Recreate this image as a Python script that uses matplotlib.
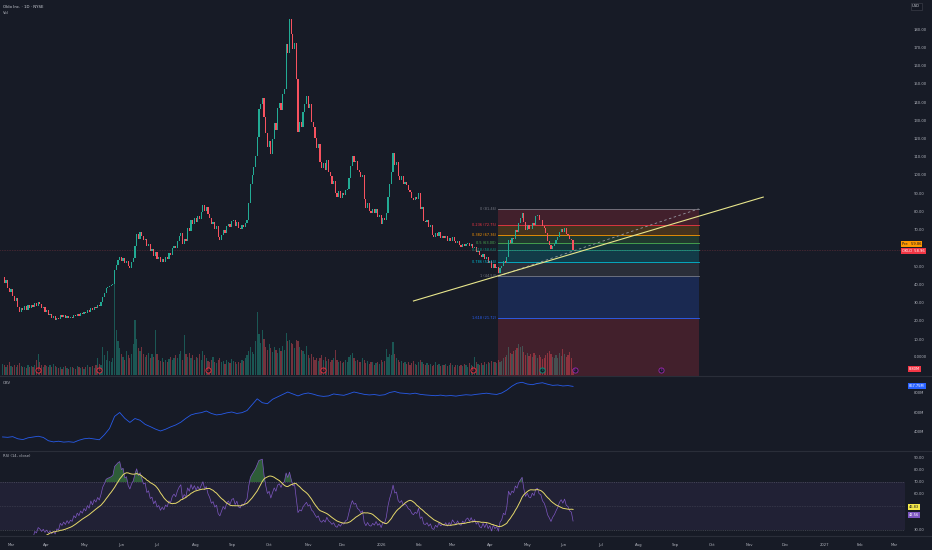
import numpy as np
import pandas as pd
import matplotlib
matplotlib.use("Agg")
import matplotlib.pyplot as plt
from matplotlib.transforms import blended_transform_factory

# Oklo daily closes, one per trading day from 2025-02-24
closes = [
    44.2, 40.9, 42.6, 38.1, 36.0, 37.8, 33.5, 31.2, 32.4, 27.9,
    25.1, 27.3, 25.9, 28.4, 26.2, 28.6, 27.1, 29.0, 27.4, 29.8,
    28.3, 30.4, 29.2, 27.0, 27.8, 25.1, 25.9, 23.4, 24.1, 21.8,
    22.6, 20.3, 21.9, 21.2, 23.3, 22.0, 23.1, 21.7, 22.9, 21.4,
    22.4, 21.8, 23.5, 22.6, 24.0, 23.0, 24.4, 23.6, 25.0, 24.2,
    25.8, 25.0, 27.3, 26.1, 27.9, 27.2, 28.8, 28.1, 30.2, 33.4,
    35.2, 37.9, 38.6, 39.0, 39.6, 40.5, 48.2, 50.6, 53.4, 55.2,
    53.1, 54.6, 51.9, 52.8, 50.1, 49.0, 52.3, 54.6, 61.0, 67.8,
    65.2, 69.0, 66.8, 64.3, 65.1, 60.9, 62.2, 58.4, 59.3, 55.8,
    57.6, 54.1, 55.0, 52.2, 53.8, 52.5, 54.9, 54.0, 57.2, 56.4,
    59.9, 61.3, 60.2, 63.9, 66.5, 68.4, 62.3, 65.1, 64.0, 70.8,
    69.2, 75.3, 72.9, 76.4, 74.1, 77.6, 76.0, 79.9, 83.8, 80.4,
    82.3, 78.5, 76.4, 72.9, 74.0, 70.6, 71.8, 66.0, 64.3, 67.1,
    69.8, 68.1, 71.9, 73.4, 71.5, 74.6, 75.3, 72.0, 74.1, 70.8,
    70.2, 72.4, 71.6, 73.7, 75.4, 84.9, 95.1, 99.8, 104.6, 110.3,
    121.0, 136.4, 139.0, 142.2, 131.6, 122.8, 115.2, 118.6, 111.7, 119.9,
    128.3, 124.9, 136.5, 139.4, 135.8, 144.6, 147.2, 171.6, 166.9, 185.4,
    177.0, 168.8, 172.4, 152.6, 123.4, 128.9, 126.4, 134.5, 139.1, 143.4,
    136.6, 139.0, 129.3, 126.4, 120.1, 114.8, 116.9, 107.2, 104.1, 106.8,
    102.7, 108.3, 101.9, 99.4, 95.1, 96.8, 90.4, 88.2, 91.0, 87.6,
    90.1, 88.9, 91.6, 92.4, 98.2, 104.9, 110.4, 106.9, 107.8, 102.9,
    101.6, 98.7, 100.2, 86.8, 82.1, 84.6, 80.2, 79.4, 81.3, 79.1,
    81.5, 76.9, 78.0, 73.2, 76.4, 75.5, 79.3, 87.8, 95.1, 101.4,
    112.3, 105.6, 107.0, 99.2, 97.1, 99.4, 95.0, 96.3, 94.6, 91.8,
    90.9, 87.6, 86.2, 88.0, 86.9, 90.4, 81.3, 82.4, 74.8, 74.0,
    75.1, 71.3, 72.6, 67.1, 66.2, 68.4, 66.3, 68.6, 65.7, 66.4,
    65.6, 66.8, 63.9, 65.5, 63.6, 65.8, 63.9, 62.5, 63.9, 61.5,
    60.7, 62.3, 61.0, 62.4, 62.9, 61.0, 62.3, 59.8, 60.7, 58.0,
    58.6, 55.9, 55.2, 56.6, 54.0, 55.3, 52.0, 52.9, 49.3, 51.2,
    48.8, 49.5, 46.1, 49.2, 50.1, 52.6, 51.8, 55.2, 64.3, 62.5,
    65.4, 64.7, 69.8, 68.9, 73.8, 76.5, 79.3, 74.2, 70.1, 72.7,
    70.6, 70.2, 73.6, 72.4, 77.3, 78.2, 75.6, 75.2, 72.1, 70.9,
    68.3, 64.0, 61.9, 59.2, 61.2, 62.4, 64.3, 66.0, 68.7, 70.2,
    68.6, 70.8, 67.8, 67.2, 65.0, 64.3, 58.96,
]

# daily volume, millions
volumes = [
    16, 14, 12, 15, 18, 13, 11, 14, 12, 15,
    17, 13, 11, 12, 10, 14, 12, 13, 11, 15,
    22, 30, 18, 14, 12, 15, 13, 11, 14, 12,
    16, 13, 11, 10, 12, 9, 11, 13, 10, 9,
    11, 12, 10, 9, 13, 11, 10, 12, 9, 11,
    14, 12, 11, 13, 10, 15, 25, 16, 14, 40,
    28, 22, 35, 20, 18, 24, 130, 64, 48, 38,
    30, 26, 22, 35, 28, 24, 30, 44, 78, 52,
    38, 34, 40, 30, 26, 28, 32, 24, 30, 26,
    64, 30, 22, 20, 24, 18, 21, 19, 23, 26,
    22, 25, 28, 24, 30, 34, 22, 57, 30, 26,
    32, 24, 28, 22, 26, 24, 30, 22, 34, 28,
    25, 20, 18, 22, 26, 19, 17, 21, 24, 18,
    20, 16, 22, 19, 17, 23, 20, 18, 16, 19,
    17, 22, 20, 24, 28, 35, 40, 33, 30, 48,
    90, 58, 46, 64, 52, 40, 36, 44, 38, 33,
    40, 36, 32, 38, 34, 42, 36, 60, 48, 50,
    46, 44, 38, 50, 48, 40, 36, 34, 30, 42,
    28, 24, 30, 26, 22, 25, 20, 24, 28, 22,
    26, 20, 23, 19, 22, 25, 36, 21, 18, 20,
    17, 19, 22, 18, 26, 28, 32, 24, 20, 22,
    19, 18, 24, 21, 17, 20, 16, 19, 18, 15,
    17, 19, 16, 21, 18, 20, 37, 26, 30, 28,
    47, 30, 24, 22, 19, 20, 17, 18, 16, 19,
    15, 17, 20, 16, 14, 18, 22, 19, 16, 15,
    17, 14, 16, 13, 15, 18, 14, 16, 13, 15,
    14, 16, 13, 15, 17, 14, 12, 15, 14, 13,
    15, 13, 16, 14, 12, 17, 15, 13, 26, 18,
    16, 14, 17, 15, 18, 16, 19, 17, 20, 18,
    19, 17, 22, 18, 20, 24, 26, 28, 40, 32,
    30, 34, 36, 38, 44, 40, 42, 33, 29, 31,
    27, 30, 26, 32, 28, 24, 29, 26, 23, 25,
    28, 31, 35, 30, 26, 24, 28, 25, 32, 27,
    37, 30, 26, 28, 33, 24, 8.8,
]

# OBV every 3rd bar, millions
obv_step = 3
obv = [
    349, 345, 352, 330, 322, 340, 348, 356, 344, 310,
    298, 305, 296, 300, 294, 315, 330, 336, 328, 320,
    372, 436, 560, 600, 540, 498, 538, 520, 478, 455,
    430, 410, 428, 452, 472, 500, 540, 575, 590, 598,
    615, 590, 575, 582, 596, 605, 590, 598, 620, 680,
    740, 700, 690, 735, 760, 785, 810, 790, 770, 790,
    800, 788, 772, 765, 770, 790, 782, 776, 792, 810,
    798, 786, 780, 784, 776, 782, 805, 815, 800, 796,
    790, 798, 786, 780, 776, 772, 778, 770, 774, 768,
    776, 782, 778, 786, 792, 798, 790, 785, 800, 830,
    870, 900, 910, 892, 885, 898, 905, 890, 878, 882,
    872, 876, 867.75,
]

first_day = "2025-02-24"

fib_start = "2026-04-08"
fib_end = "2026-09-21"
fib_low = 44.54
fib_high = 81.46
fib_levels = [0, 0.236, 0.382, 0.5, 0.618, 0.786, 1, 1.618, 2.618]
fib_colors = ["#787b86", "#f23645", "#ff9800", "#4caf50", "#089981",
              "#00bcd4", "#787b86", "#2962ff", "#f23645"]

trend_dates = ["2026-01-28", "2026-11-12"]
trend_prices = [30.96, 87.9]

event_dates = ["2025-03-25", "2025-05-14", "2025-08-12", "2025-11-14",
               "2026-03-18", "2026-05-14", "2026-06-10", "2026-08-20"]
event_colors = ["#f23645", "#f23645", "#f23645", "#f23645",
                "#f23645", "#089981", "#9c27b0", "#9c27b0"]

price_ticks = [10, 20, 30, 40, 50, 70, 80, 90, 100, 110, 120, 130, 140, 150, 160, 170, 180]
obv_ticks = [400, 600, 800]
rsi_ticks = [30, 60, 70, 80, 90]

last_price = 58.96
ext_price = 59.86
last_volume = 8.80
rsi_last = 42.56
rsi_ma_last = 46.83

BG = "#171b26"
TXT = "#b2b5be"
UP = "#22ab94"
DN = "#f7525f"
W, H = 932, 550


def rect(top, bottom, left=0, right=905):
    return [left / W, 1 - bottom / H, (right - left) / W, (bottom - top) / H]


days = pd.bdate_range(first_day, "2027-04-30")
n = len(closes)
x = np.arange(n)
c = np.array(closes)
o = np.r_[c[0], c[:-1]]
up = c >= o

fig = plt.figure(figsize=(W / 100, H / 100), dpi=100, facecolor=BG)
ax_v = fig.add_axes(rect(0, 375))
ax_p = fig.add_axes(rect(0, 375), sharex=ax_v)
ax_o = fig.add_axes(rect(377, 450), sharex=ax_v)
ax_r = fig.add_axes(rect(452, 535), sharex=ax_v)

for ax in (ax_v, ax_p, ax_o, ax_r):
    ax.set_facecolor(BG)
    for s in ax.spines.values():
        s.set_visible(False)
    ax.tick_params(length=0, labelsize=2.7, colors=TXT)
    ax.yaxis.tick_right()
    ax.tick_params(axis="y", pad=6.5)
    ax.tick_params(axis="x", labelbottom=False)
ax_p.patch.set_visible(False)
ax_v.set_yticks([])

x_left = days.get_loc(pd.Timestamp("2025-03-03")) - 11 / 1.695
x_right = days.get_loc(pd.Timestamp("2027-03-01")) + 11 / 1.695
ax_p.set_xlim(x_left, x_right)

# volume
vcol = [UP if u else DN for u in up]
ax_v.bar(x, volumes, width=0.7, color=vcol, alpha=0.42, linewidth=0)
ax_v.set_ylim(0, 536)

# price pane
ax_p.set_ylim(-9.6, 195.9)
ax_p.set_yticks(price_ticks)
ax_p.set_yticklabels([f"{t:.2f}" for t in price_ticks])

fs_i, fe_i = days.get_indexer(pd.to_datetime([fib_start, fib_end]))
lv = [fib_high - f * (fib_high - fib_low) for f in fib_levels]
for i, (f, p, col) in enumerate(zip(fib_levels, lv, fib_colors)):
    if i > 0:
        ax_p.fill_between([fs_i, fe_i], lv[i - 1], p, color=col, alpha=0.2, linewidth=0, zorder=1)
    if p > -9:
        ax_p.plot([fs_i, fe_i], [p, p], color=col, lw=0.6, zorder=2)
        ax_p.text(fs_i - 1.5, p, f"{f:g} ({p:.2f})", color=col, fontsize=2.5,
                  ha="right", va="center", zorder=5)
ax_p.plot([fs_i, fe_i], [fib_low, fib_high], color="#9598a1", lw=0.6,
          ls=(0, (3, 3)), zorder=2)

ax_p.axhline(last_price, color=DN, lw=0.4, ls=(0, (1, 2)), alpha=0.6, zorder=2)

col = np.where(up, UP, DN)
ax_p.bar(x, c - o, bottom=o, width=0.7, color=col, linewidth=0, zorder=3)

ti = days.get_indexer(pd.to_datetime(trend_dates))
ax_p.plot(ti, trend_prices, color="#e8e68c", lw=0.8, zorder=4)

ei = days.get_indexer(pd.to_datetime(event_dates))
for e, ec in zip(ei, event_colors):
    ax_p.scatter([e], [-6.8], s=14, facecolor=BG, edgecolor=ec, linewidth=0.6, zorder=6)
    ax_p.text(e, -6.8, "E", color=ec, fontsize=2.2, ha="center", va="center", zorder=7)

tr_p = blended_transform_factory(fig.transFigure, ax_p.transData)
ax_p.text(902 / W, ext_price + 2.5, f"Pre   {ext_price:.2f}", transform=tr_p, fontsize=2.6,
          color="#131722", va="center", ha="left",
          bbox=dict(boxstyle="square,pad=0.25", fc="#ff9800", ec="none"))
ax_p.text(902 / W, last_price - 0.6, f"OKLO  {last_price:.2f}", transform=tr_p, fontsize=2.6,
          color="white", va="center", ha="left",
          bbox=dict(boxstyle="square,pad=0.25", fc="#f23645", ec="none"))
ax_p.text(914 / W, 0, "0.0000", transform=tr_p, fontsize=2.7, color=TXT, va="center")
tr_v = blended_transform_factory(fig.transFigure, ax_v.transData)
ax_v.text(909 / W, last_volume, f"{last_volume:.2f}M", transform=tr_v, fontsize=2.6,
          color="white", va="center", ha="left",
          bbox=dict(boxstyle="square,pad=0.25", fc="#f23645", ec="none"))

# OBV pane
xo = np.arange(0, n, obv_step)
ax_o.plot(xo, obv, color="#2962ff", lw=0.6, alpha=0.9)
ax_o.set_ylim(215, 964)
ax_o.set_yticks(obv_ticks)
ax_o.set_yticklabels([f"{t}M" for t in obv_ticks])
tr_o = blended_transform_factory(fig.transFigure, ax_o.transData)
ax_o.text(909 / W, obv[-1], f"{obv[-1]:.2f}M", transform=tr_o, fontsize=2.6,
          color="white", va="center", ha="left",
          bbox=dict(boxstyle="square,pad=0.25", fc="#2962ff", ec="none"))

# RSI pane
cs = pd.Series(c)
d = cs.diff()
gain = d.clip(lower=0).ewm(alpha=1 / 14, adjust=False).mean()
loss = (-d.clip(upper=0)).ewm(alpha=1 / 14, adjust=False).mean()
rsi = (100 - 100 / (1 + gain / loss)).to_numpy()
rsi_ma = pd.Series(rsi).rolling(14, min_periods=1).mean().to_numpy()
ax_r.set_ylim(25.8, 95)
ax_r.axhspan(30, 70, color="#7e57c2", alpha=0.1, linewidth=0)
for lvl, st in ((70, (0, (2, 2))), (50, (0, (1, 2))), (30, (0, (2, 2)))):
    ax_r.axhline(lvl, color="#787b86", lw=0.4, ls=st, alpha=0.7)
ax_r.fill_between(x[1:], rsi[1:], 70, where=rsi[1:] > 70, color="#4caf50", alpha=0.45,
                  linewidth=0, interpolate=True)
ax_r.plot(x[1:], rsi[1:], color="#7e57c2", lw=0.5)
ax_r.plot(x[1:], rsi_ma[1:], color="#e6d96b", lw=0.7)
ax_r.set_yticks(rsi_ticks)
ax_r.set_yticklabels([f"{t:.2f}" for t in rsi_ticks])
tr_r = blended_transform_factory(fig.transFigure, ax_r.transData)
ax_r.text(909 / W, rsi_ma_last + 2, f"{rsi_ma_last:.2f}", transform=tr_r, fontsize=2.6,
          color="#131722", va="center", ha="left",
          bbox=dict(boxstyle="square,pad=0.25", fc="#f5e94a", ec="none"))
ax_r.text(909 / W, rsi_last, f"{rsi_last:.2f}", transform=tr_r, fontsize=2.6,
          color="white", va="center", ha="left",
          bbox=dict(boxstyle="square,pad=0.25", fc="#7e57c2", ec="none"))

# time axis
months = pd.date_range("2025-03-01", "2027-03-01", freq="MS")
mpos = [days.searchsorted(m) for m in months]
mlab = [str(m.year) if m.month == 1 else m.strftime("%b") for m in months]
ax_r.set_xticks(mpos)
ax_r.set_xticklabels(mlab)
ax_r.tick_params(axis="x", labelbottom=True, pad=5.5, labelsize=2.7)

# pane separators and legends
for yy in (376, 451, 536):
    fig.add_artist(plt.Line2D([0, 1], [1 - yy / H] * 2, color="#2a2e39", lw=0.8))
fig.text(3 / W, 1 - 7 / H, "Oklo Inc. · 1D · NYSE", fontsize=2.8, color="#d1d4dc", va="center")
fig.text(3 / W, 1 - 13 / H, "Vol", fontsize=2.7, color=TXT, va="center")
fig.text(3 / W, 1 - 383 / H, "OBV", fontsize=2.7, color=TXT, va="center")
fig.text(3 / W, 1 - 456 / H, "RSI (14, close)", fontsize=2.7, color=TXT, va="center")
fig.text(916 / W, 1 - 6 / H, "USD", fontsize=2.7, color="#d1d4dc", va="center", ha="center",
         bbox=dict(boxstyle="square,pad=0.4", fc="#131722", ec="#434651", lw=0.4))

fig.savefig("out.png", dpi=100, facecolor=BG)
